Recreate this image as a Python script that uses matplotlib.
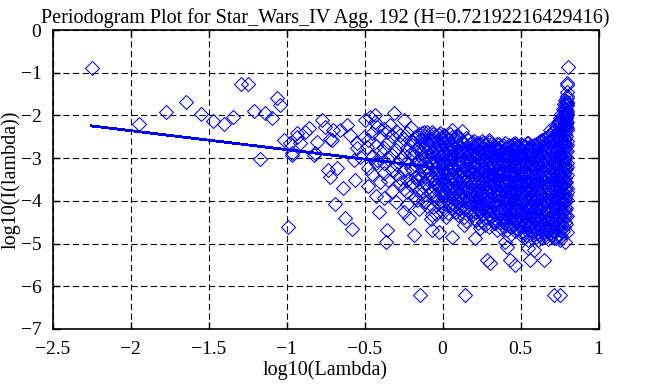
import matplotlib
matplotlib.use("Agg")
import matplotlib.pyplot as plt

# Periodogram of Star_Wars_IV, aggregation level 192
title = "Periodogram Plot for Star_Wars_IV Agg. 192 (H=0.72192216429416)"
hurst = 0.72192216429416
fit_intercept = -3.244
fit_x = [-2.249, 0.80]

# isolated points (log10 lambda, log10 I(lambda))
sparse_x = [-2.249, -1.945, -1.770, -1.646, -1.545, -1.473, -1.400, -1.342, -1.293, -1.244,
            -1.206, -1.169, -1.137, -1.094, -1.062, -1.041, -1.019, -0.991, -0.977, -0.966,
            -0.966, -0.934, -0.930, -0.912, -0.880, -0.859, -0.827, -0.816, -0.805, -0.773,
            -0.752, -0.731, -0.720, -0.720, -0.709, -0.700, -0.688, -0.677, -0.656, -0.635,
            -0.624, -0.613, -0.592, -0.581, -0.570, -0.560, -0.549, -0.549, -0.528, -0.506,
            -0.496, -0.485, -0.463, -0.431, -0.431, -0.420, -0.420, -0.407, -0.378, -0.364,
            -0.356, -0.353, -0.335, -0.314, -0.292, -0.271, -0.250, -0.250, -0.228, -0.218,
            -0.186, -0.143, -0.132, -0.121, -0.068, -0.068, -0.068, -0.025, -0.014, 0.007,
            0.061, 0.061, 0.125, 0.135, 0.146, 0.210, 0.242, 0.285, 0.296, 0.306,
            0.328, 0.402, 0.413, 0.435, 0.467, 0.467, 0.542, 0.550, 0.563, 0.584,
            0.648, 0.690, 0.691, 0.712, 0.755, 0.755, 0.787]
sparse_y = [-0.88, -2.19, -1.93, -1.68, -1.96, -2.12, -2.19, -2.04, -1.26, -1.26,
            -1.90, -3.02, -1.95, -2.07, -1.60, -1.76, -2.58, -4.61, -2.65, -2.89,
            -2.93, -2.50, -2.42, -2.65, -2.38, -2.30, -2.93, -2.89, -2.62, -2.11,
            -2.26, -3.28, -3.43, -2.54, -2.58, -2.34, -4.07, -3.24, -2.34, -3.71,
            -4.39, -2.22, -2.46, -4.67, -3.04, -3.51, -2.77, -2.65, -2.97, -2.50,
            -2.11, -2.73, -2.03, -1.99, -2.15, -2.26, -3.04, -4.26, -3.12, -4.96,
            -2.38, -4.68, -2.22, -1.95, -3.36, -3.59, -2.11, -4.25, -3.79, -4.41,
            -4.80, -6.21, -2.42, -2.38, -4.33, -4.68, -2.38, -4.72, -2.42, -2.46,
            -4.84, -2.34, -2.36, -4.57, -6.21, -4.88, -4.64, -5.39, -2.58, -5.45,
            -4.53, -4.96, -5.07, -5.39, -5.50, -2.65, -2.65, -5.10, -5.39, -5.15,
            -5.39, -4.68, -2.34, -6.21, -6.21, -4.84, -4.96]

# points at the top end (lambda close to 2*pi)
edge_x = [0.805, 0.800, 0.799, 0.798, 0.797, 0.796, 0.795, 0.794, 0.793, 0.792, 0.791, 0.790]
edge_y = [-0.87, -1.25, -1.28, -1.60, -1.68, -1.76, -1.90, -1.93, -1.96, -2.04, -2.12, -2.19]

# dense cloud, read column by column
cloud_x = [-0.475, -0.45, -0.425, -0.40, -0.375, -0.35, -0.325, -0.30, -0.275, -0.25,
           -0.225, -0.20, -0.175, -0.15, -0.125, -0.10, -0.075, -0.05, -0.025, 0.0,
           0.025, 0.05, 0.075, 0.10, 0.125, 0.15, 0.175, 0.20, 0.225, 0.25,
           0.275, 0.30, 0.325, 0.35, 0.375, 0.40, 0.425, 0.45, 0.475, 0.50,
           0.525, 0.55, 0.575, 0.60, 0.625, 0.65, 0.675, 0.70, 0.725, 0.75,
           0.77, 0.785, 0.795]
cloud_y = [
    [-2.58, -3.22, -3.66],
    [-2.41, -2.97, -3.38],
    [-2.72, -3.12, -3.88],
    [-2.47, -2.83, -3.57],
    [-2.31, -2.77, -3.34, -3.93],
    [-2.62, -3.03, -3.52],
    [-2.49, -2.92, -3.27, -3.78],
    [-2.36, -2.81, -3.14, -4.02],
    [-2.46, -2.67, -3.01, -3.47],
    [-2.56, -2.93, -3.31, -3.72],
    [-2.42, -2.76, -3.08, -3.52, -4.07],
    [-2.29, -2.61, -2.88, -3.24, -3.63],
    [-2.51, -2.84, -3.17, -3.43, -3.92],
    [-2.44, -2.71, -3.04, -3.37, -3.74, -4.18],
    [-2.57, -2.79, -3.02, -3.29, -3.66, -3.97],
    [-2.39, -2.64, -2.96, -3.21, -3.48, -4.12],
    [-2.61, -2.86, -3.11, -3.41, -3.82, -4.43],
    [-2.49, -2.74, -3.06, -3.26, -3.57, -3.86],
    [-2.46, -2.69, -2.91, -3.13, -3.44, -3.71, -4.04],
    [-2.54, -2.81, -3.01, -3.28, -3.61, -3.89, -4.26],
    [-2.51, -2.72, -2.94, -3.19, -3.42, -3.63, -3.96, -4.38],
    [-2.44, -2.66, -2.89, -3.12, -3.33, -3.56, -3.79, -4.11],
    [-2.56, -2.77, -3.02, -3.24, -3.47, -3.69, -3.94, -4.21],
    [-2.48, -2.71, -2.92, -3.16, -3.36, -3.58, -3.84, -4.06, -4.33],
    [-2.62, -2.79, -3.06, -3.27, -3.49, -3.76, -3.99, -4.24],
    [-2.53, -2.76, -2.97, -3.18, -3.41, -3.64, -3.91, -4.14, -4.46],
    [-2.66, -2.87, -3.09, -3.31, -3.54, -3.81, -4.03, -4.29],
    [-2.59, -2.82, -3.01, -3.22, -3.43, -3.67, -3.88, -4.12, -4.39],
    [-2.64, -2.88, -3.11, -3.34, -3.56, -3.74, -4.01, -4.19, -4.52],
    [-2.61, -2.79, -3.04, -3.26, -3.46, -3.71, -3.93, -4.16, -4.34],
    [-2.69, -2.91, -3.12, -3.29, -3.51, -3.77, -3.98, -4.23, -4.57],
    [-2.63, -2.86, -3.03, -3.24, -3.44, -3.66, -3.87, -4.09, -4.31, -4.62],
    [-2.71, -2.94, -3.16, -3.36, -3.57, -3.79, -4.04, -4.26, -4.44],
    [-2.66, -2.84, -3.07, -3.28, -3.49, -3.71, -3.92, -4.14, -4.36, -4.68],
    [-2.72, -2.89, -3.11, -3.32, -3.53, -3.76, -3.96, -4.18, -4.41, -4.64],
    [-2.64, -2.86, -3.04, -3.23, -3.46, -3.64, -3.86, -4.07, -4.28, -4.51],
    [-2.69, -2.92, -3.13, -3.34, -3.56, -3.74, -3.97, -4.16, -4.37, -4.59, -4.83],
    [-2.67, -2.84, -3.06, -3.27, -3.44, -3.67, -3.89, -4.11, -4.32, -4.54],
    [-2.71, -2.94, -3.14, -3.36, -3.57, -3.78, -3.99, -4.21, -4.42, -4.66],
    [-2.66, -2.87, -3.04, -3.26, -3.47, -3.63, -3.86, -4.04, -4.27, -4.46, -4.74],
    [-2.72, -2.91, -3.09, -3.31, -3.52, -3.71, -3.92, -4.12, -4.29, -4.51, -4.72],
    [-2.64, -2.83, -3.06, -3.24, -3.44, -3.66, -3.84, -4.06, -4.24, -4.47, -4.64, -4.91],
    [-2.71, -2.89, -3.12, -3.29, -3.51, -3.69, -3.91, -4.09, -4.31, -4.49, -4.71],
    [-2.66, -2.84, -3.03, -3.26, -3.46, -3.64, -3.86, -4.03, -4.26, -4.44, -4.66, -4.84],
    [-2.61, -2.81, -2.99, -3.21, -3.41, -3.59, -3.81, -4.01, -4.19, -4.41, -4.61, -4.79],
    [-2.56, -2.74, -2.96, -3.16, -3.34, -3.56, -3.74, -3.96, -4.16, -4.34, -4.56, -4.76],
    [-2.49, -2.71, -2.91, -3.09, -3.31, -3.49, -3.71, -3.91, -4.09, -4.31, -4.49, -4.71, -4.89],
    [-2.41, -2.59, -2.81, -3.01, -3.19, -3.41, -3.59, -3.81, -4.01, -4.19, -4.41, -4.59, -4.81],
    [-2.24, -2.46, -2.64, -2.86, -3.04, -3.26, -3.44, -3.66, -3.84, -4.06, -4.24, -4.46, -4.64, -4.86],
    [-2.06, -2.24, -2.46, -2.64, -2.86, -3.04, -3.26, -3.44, -3.66, -3.84, -4.06, -4.24, -4.46, -4.69, -4.91],
    [-1.86, -2.04, -2.26, -2.44, -2.66, -2.84, -3.06, -3.24, -3.46, -3.64, -3.86, -4.04, -4.26, -4.44, -4.71],
    [-1.64, -1.86, -2.04, -2.26, -2.44, -2.66, -2.84, -3.06, -3.24, -3.46, -3.71, -3.94, -4.21, -4.49],
    [-1.54, -1.76, -1.94, -2.16, -2.34, -2.61, -2.84, -3.11, -3.39, -3.71, -3.99, -4.36, -4.74],
]

# second pass over the cloud, between the columns above
cloud2_x = [-0.1875, -0.1625, -0.1375, -0.1125, -0.0875, -0.0625, -0.0375, -0.0125, 0.0125, 0.0375,
            0.0625, 0.0875, 0.1125, 0.1375, 0.1625, 0.1875, 0.2125, 0.2375, 0.2625, 0.2875,
            0.3125, 0.3375, 0.3625, 0.3875, 0.4125, 0.4375, 0.4625, 0.4875, 0.5125, 0.5375,
            0.5625, 0.5875, 0.6125, 0.6375, 0.6625, 0.6875, 0.7125, 0.7375, 0.7625, 0.778,
            0.790, 0.800]
cloud2_y = [
    [-2.62, -2.95, -3.27, -3.58],
    [-2.48, -2.77, -3.09, -3.50, -3.98],
    [-2.55, -2.88, -3.18, -3.46, -3.85],
    [-2.47, -2.72, -2.99, -3.33, -3.59, -4.03],
    [-2.52, -2.76, -3.05, -3.34, -3.67],
    [-2.43, -2.67, -2.97, -3.18, -3.49, -3.77, -4.14],
    [-2.58, -2.83, -3.08, -3.35, -3.63, -3.94],
    [-2.52, -2.76, -2.98, -3.21, -3.52, -3.79, -4.12],
    [-2.47, -2.66, -2.89, -3.09, -3.33, -3.53, -3.81, -4.17],
    [-2.57, -2.81, -3.04, -3.27, -3.51, -3.72, -4.03, -4.29],
    [-2.51, -2.71, -2.96, -3.18, -3.41, -3.63, -3.87, -4.16],
    [-2.49, -2.68, -2.88, -3.11, -3.29, -3.53, -3.77, -3.99, -4.27],
    [-2.56, -2.84, -3.11, -3.31, -3.56, -3.69, -3.93, -4.16],
    [-2.68, -2.86, -3.02, -3.23, -3.46, -3.71, -3.96, -4.19, -4.38],
    [-2.58, -2.81, -3.03, -3.25, -3.47, -3.73, -3.97, -4.21],
    [-2.62, -2.77, -2.94, -3.15, -3.37, -3.61, -3.83, -4.06, -4.33],
    [-2.68, -2.93, -3.16, -3.39, -3.62, -3.81, -4.06, -4.27, -4.44],
    [-2.66, -2.84, -2.98, -3.19, -3.39, -3.61, -3.84, -4.09, -4.26],
    [-2.64, -2.85, -3.07, -3.35, -3.57, -3.82, -4.06, -4.31, -4.49],
    [-2.68, -2.81, -2.98, -3.17, -3.39, -3.58, -3.79, -4.01, -4.21, -4.41],
    [-2.66, -2.89, -3.09, -3.31, -3.49, -3.71, -3.96, -4.18, -4.38],
    [-2.73, -2.91, -3.01, -3.21, -3.42, -3.63, -3.84, -4.06, -4.28, -4.52],
    [-2.68, -2.81, -3.02, -3.23, -3.41, -3.63, -3.87, -4.09, -4.29, -4.49],
    [-2.69, -2.93, -3.11, -3.33, -3.56, -3.74, -3.94, -4.17, -4.39, -4.58],
    [-2.74, -2.88, -3.06, -3.26, -3.47, -3.66, -3.86, -4.06, -4.27, -4.48, -4.69],
    [-2.71, -2.93, -3.14, -3.34, -3.56, -3.79, -3.99, -4.21, -4.41, -4.62],
    [-2.69, -2.82, -3.02, -3.21, -3.42, -3.61, -3.84, -4.06, -4.24, -4.48, -4.71],
    [-2.73, -2.94, -3.14, -3.34, -3.56, -3.74, -3.94, -4.14, -4.36, -4.56],
    [-2.69, -2.81, -2.99, -3.19, -3.39, -3.58, -3.79, -3.98, -4.19, -4.39, -4.58, -4.82],
    [-2.74, -2.94, -3.16, -3.36, -3.56, -3.77, -3.97, -4.17, -4.37, -4.57, -4.79],
    [-2.71, -2.88, -2.99, -3.19, -3.37, -3.59, -3.78, -3.98, -4.18, -4.38, -4.56, -4.78],
    [-2.69, -2.79, -2.97, -3.19, -3.41, -3.59, -3.81, -3.99, -4.21, -4.39, -4.59, -4.79],
    [-2.64, -2.76, -2.94, -3.14, -3.36, -3.54, -3.76, -3.94, -4.16, -4.36, -4.54, -4.74, -4.92],
    [-2.58, -2.71, -2.91, -3.09, -3.31, -3.49, -3.71, -3.89, -4.11, -4.29, -4.51, -4.69, -4.86],
    [-2.53, -2.66, -2.86, -3.06, -3.24, -3.46, -3.64, -3.86, -4.06, -4.24, -4.46, -4.66, -4.84],
    [-2.45, -2.61, -2.81, -2.99, -3.21, -3.39, -3.61, -3.79, -3.99, -4.21, -4.39, -4.61, -4.77],
    [-2.33, -2.51, -2.71, -2.91, -3.11, -3.31, -3.51, -3.71, -3.91, -4.11, -4.31, -4.51, -4.71, -4.88],
    [-2.16, -2.36, -2.56, -2.76, -2.96, -3.16, -3.36, -3.56, -3.76, -3.96, -4.16, -4.36, -4.56, -4.79],
    [-1.96, -2.15, -2.36, -2.56, -2.76, -2.96, -3.16, -3.36, -3.56, -3.76, -3.96, -4.16, -4.36, -4.58, -4.82],
    [-1.74, -1.96, -2.15, -2.36, -2.55, -2.76, -2.96, -3.16, -3.36, -3.58, -3.81, -4.06, -4.33, -4.62],
    [-1.66, -1.85, -2.06, -2.25, -2.48, -2.72, -2.98, -3.26, -3.55, -3.86, -4.17, -4.55],
    [-1.45, -1.70, -1.98, -2.30, -2.70, -3.20, -3.80],
]

# third pass, the core of the cloud where it is solid blue
cloud3_x = [-0.044, 0.006, 0.056, 0.106, 0.156, 0.206, 0.256, 0.306, 0.356, 0.406,
            0.456, 0.506, 0.556, 0.606, 0.656, 0.706, 0.744, 0.782]
cloud3_y = [
    [-2.93, -3.38, -3.72, -4.31],
    [-2.64, -2.87, -3.16, -3.47, -3.74, -4.06],
    [-2.79, -3.02, -3.24, -3.46, -3.71, -3.91],
    [-2.83, -3.04, -3.22, -3.45, -3.67, -3.92, -4.19],
    [-2.86, -3.09, -3.29, -3.52, -3.77, -4.02],
    [-2.73, -2.94, -3.14, -3.33, -3.55, -3.76, -3.97, -4.26],
    [-2.75, -2.96, -3.17, -3.38, -3.59, -3.81, -4.03],
    [-2.79, -2.97, -3.18, -3.37, -3.58, -3.78, -3.99, -4.21],
    [-2.76, -2.96, -3.16, -3.39, -3.61, -3.82, -4.03, -4.24],
    [-2.77, -2.95, -3.15, -3.37, -3.56, -3.76, -3.96, -4.19, -4.41],
    [-2.76, -2.95, -3.16, -3.35, -3.55, -3.78, -3.98, -4.22, -4.43],
    [-2.78, -2.96, -3.16, -3.37, -3.56, -3.76, -3.96, -4.16, -4.36, -4.62],
    [-2.76, -2.96, -3.15, -3.35, -3.55, -3.74, -3.95, -4.15, -4.35, -4.57],
    [-2.74, -2.95, -3.14, -3.35, -3.55, -3.74, -3.95, -4.14, -4.35, -4.55],
    [-2.65, -2.85, -3.05, -3.25, -3.45, -3.65, -3.85, -4.05, -4.25, -4.45, -4.65],
    [-2.50, -2.70, -2.90, -3.10, -3.30, -3.50, -3.70, -3.90, -4.10, -4.30, -4.50, -4.70],
    [-2.15, -2.35, -2.55, -2.75, -2.95, -3.15, -3.35, -3.55, -3.75, -3.95, -4.15, -4.35, -4.55],
    [-1.75, -1.95, -2.15, -2.35, -2.55, -2.75, -2.95, -3.15, -3.35, -3.55, -3.75, -3.95, -4.15, -4.35],
]

plt.rcParams['font.family'] = 'Liberation Serif'
plt.rcParams['lines.scale_dashes'] = False

fig = plt.figure(figsize=(6.5, 3.85), dpi=100)
ax = fig.add_axes([0.0808, 0.1455, 0.84, 0.7765])

# flatten the columns of the cloud
all_x = sparse_x + edge_x
all_y = sparse_y + edge_y
for xs, ys in ((cloud_x, cloud_y), (cloud2_x, cloud2_y), (cloud3_x, cloud3_y)):
    for cx, col in zip(xs, ys):
        all_x += [cx] * len(col)
        all_y += col

# crisp 1px outlines like the original bitmap
ax.plot(all_x, all_y, 'D', markersize=7, markerfacecolor='none',
        markeredgecolor='#0000ff', markeredgewidth=0.75, linestyle='none',
        antialiased=False)

# least squares line, slope = 1 - 2H
slope = 1 - 2 * hurst
ax.plot(fit_x, [fit_intercept + slope * v for v in fit_x], color='#0000ff', lw=1.3,
        antialiased=False)

ax.set_xlim(-2.5, 1)
ax.set_ylim(-7, 0)
ax.set_xticks([-2.5, -2, -1.5, -1, -0.5, 0, 0.5, 1])
ax.set_xticklabels(['\u22122.5', '\u22122', '\u22121.5', '\u22121', '\u22120.5', '0', '0.5', '1'])
ax.set_yticks([-7, -6, -5, -4, -3, -2, -1, 0])
ax.set_yticklabels(['\u22127', '\u22126', '\u22125', '\u22124', '\u22123', '\u22122', '\u22121', '0'])
ax.grid(True, color='black', linestyle=(0, (4.5, 2.5)), linewidth=0.8)
ax.tick_params(direction='in', top=True, right=True, length=5, width=1, labelsize=14)
ax.tick_params(axis='x', pad=9)
ax.tick_params(axis='y', pad=8)
for s in ax.spines.values():
    s.set_linewidth(1.2)

ax.set_title(title, fontsize=14.5, pad=5)
ax.set_xlabel('log10(Lambda)', fontsize=14.5, labelpad=1)
ax.set_ylabel('log10(I(lambda))', fontsize=14.5, labelpad=0)

fig.savefig('out.png', dpi=100)
